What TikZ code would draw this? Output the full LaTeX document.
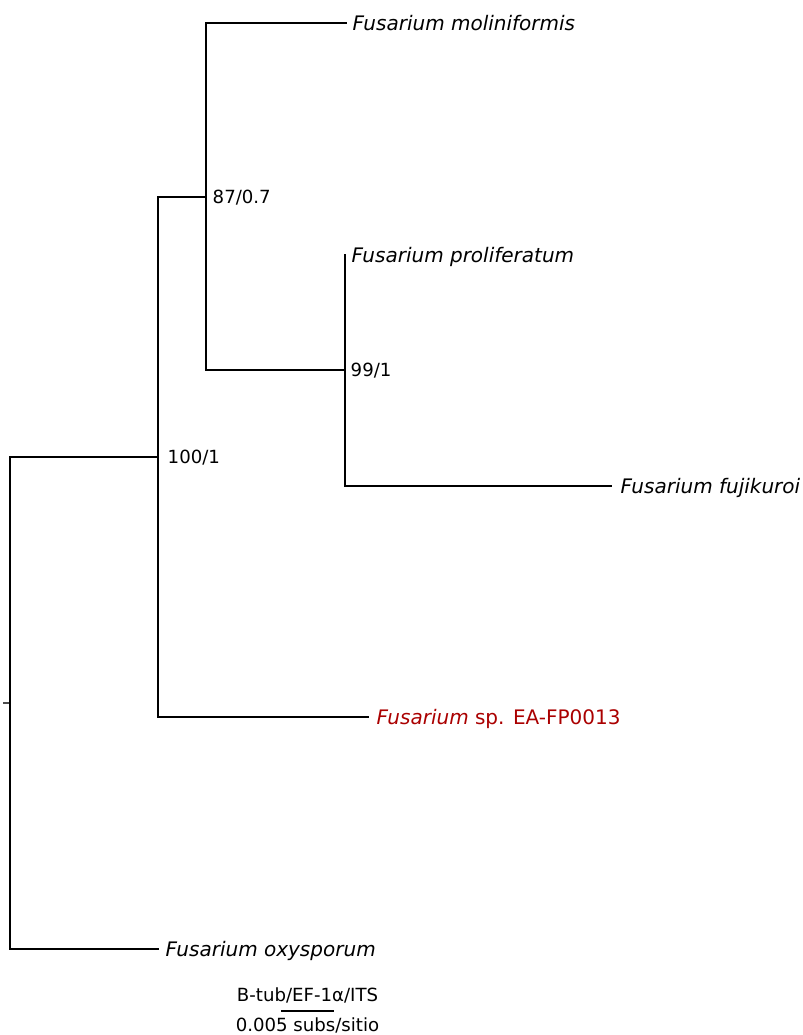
\documentclass[tikz,border=0pt]{standalone}
\usepackage{fontspec}
\setmainfont{DejaVu Sans}
\usetikzlibrary{positioning, calc}
\definecolor{cred}{HTML}{AA0000}
\tikzset{
  every picture/.style={line width=1.1pt},
  branch/.style={draw=black, line cap=rect},
  taxon/.style={inner sep=0pt, text height=0.73em, text depth=0pt, yshift=-2pt, font=\fontsize{15}{17}\selectfont\itshape},
  support/.style={inner sep=0pt, text height=0.73em, text depth=0pt, yshift=-1.5pt, font=\fontsize{13.6}{16}\selectfont},
  scaletext/.style={inner sep=0pt, font=\fontsize{13.6}{16}\selectfont},
}

\begin{document}
\begin{tikzpicture}[x=0.75pt, y=-0.75pt]
  \useasboundingbox (0,0) rectangle (803,1035);
  % internal nodes
  \coordinate (root) at (10,703);
  \coordinate (stub) at (4,703);
  \coordinate (nA) at (158,457);
  \coordinate (nB) at (206,197);
  \coordinate (nC) at (345,370);
  % tips
  \coordinate (tMol) at (346,23);
  \coordinate (tPro) at (345,255);
  \coordinate (tFuj) at (611,486);
  \coordinate (tSp) at (368,717);
  \coordinate (tOxy) at (158,949);
  % branches
  \draw[branch, line width=0.9pt, draw=black!70] (stub) -- (root);
  \draw[branch] (root |- nA) -- (nA);
  \draw[branch] (root |- nA) -- (root |- tOxy) -- (tOxy);
  \draw[branch] (nA |- nB) -- (nA |- tSp) -- (tSp);
  \draw[branch] (nA |- nB) -- (nB);
  \draw[branch] (nB |- tMol) -- (tMol);
  \draw[branch] (nB |- tMol) -- (nB |- nC) -- (nC);
  \draw[branch] (tPro) -- (nC |- tFuj) -- (tFuj);
  % labels
  \node[taxon, right=4.5pt of tMol] (lMol) {Fusarium moliniformis};
  \node[taxon, right=4.5pt of tPro] (lPro) {Fusarium proliferatum};
  \node[taxon, right=6.75pt of tFuj] (lFuj) {Fusarium fujikuroi};
  \node[taxon, right=6pt of tSp, text=cred] (lSp) {Fusarium\/ \upshape sp. EA-FP0013};
  \node[taxon, right=5.25pt of tOxy] (lOxy) {Fusarium oxysporum};
  \node[support, right=4.5pt of nB] (sB) {87/0.7};
  \node[support, right=3.75pt of nC] (sC) {99/1};
  \node[support, right=6.75pt of nA] (sA) {100/1};
  % scale bar
  \coordinate (sb1) at (282,1011);
  \coordinate (sb2) at (333,1011);
  \draw[branch] (sb1) -- (sb2);
  \node[scaletext, above=5.5pt of $(sb1)!0.5!(sb2)$] (sbTop) {B-tub/EF-1α/ITS};
  \node[scaletext, below=4.5pt of $(sb1)!0.5!(sb2)$] (sbBot) {0.005 subs/sitio};
\end{tikzpicture}
\end{document}
